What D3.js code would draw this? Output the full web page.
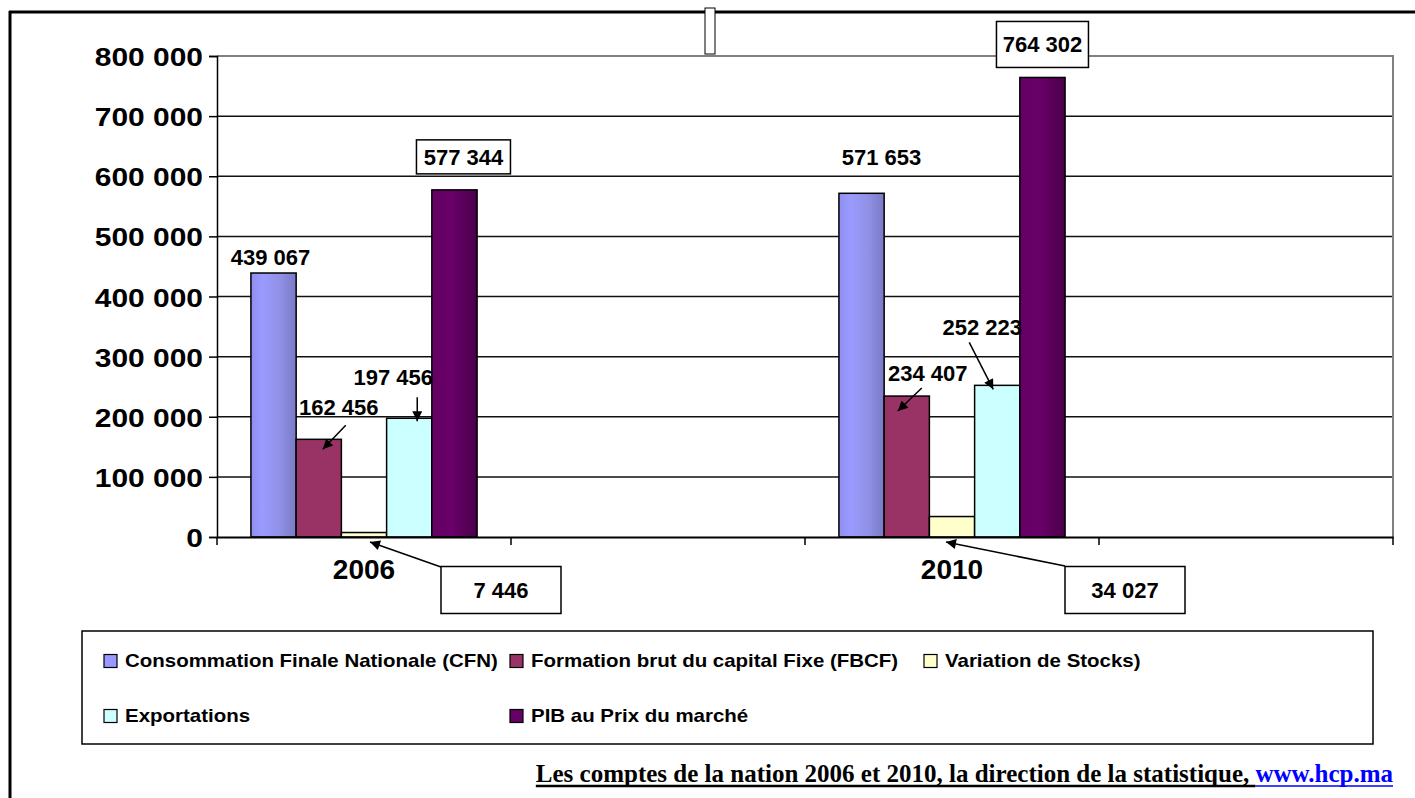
<!DOCTYPE html>
<html>
<head>
<meta charset="utf-8">
<script src="https://cdn.jsdelivr.net/npm/d3@7"></script>
<style>
  body { margin: 0; background: #fff; }
  text { font-family: "Liberation Sans", Arial, sans-serif; font-weight: bold; }
</style>
</head>
<body>
<div id="chart"></div>
<script>
// DATA
var categories = ["2006", "", "2010", ""];
var seriesNames = ["Consommation Finale Nationale (CFN)", "Formation brut du capital Fixe (FBCF)",
                   "Variation de Stocks)", "Exportations", "PIB au Prix du marché"];
var cfn = [439067, null, 571653, null];
var fbcf = [162456, null, 234407, null];
var stocks = [7446, null, 34027, null];
var exportations = [197456, null, 252223, null];
var pib = [577344, null, 764302, null];
var yTicks = [0, 100000, 200000, 300000, 400000, 500000, 600000, 700000, 800000];
var source = "Les comptes de la nation 2006 et 2010, la direction de la statistique, ";
var sourceLink = "www.hcp.ma";

var width = 1415, height = 798;
var seriesValues = [cfn, fbcf, stocks, exportations, pib];
var colors = ["#9999ff", "#993366", "#ffffcc", "#ccffff", "#660066"];
var fills = ["url(#gCfn)", "#993366", "#ffffcc", "#ccffff", "url(#gPib)"];

var fmt = function(v) { return d3.format(",")(v).replace(/,/g, " "); };

var svg = d3.select("#chart").append("svg")
    .attr("width", width).attr("height", height);

var defs = svg.append("defs");
var g1 = defs.append("linearGradient").attr("id", "gCfn");
g1.append("stop").attr("offset", "0%").attr("stop-color", "#8e8ef0");
g1.append("stop").attr("offset", "25%").attr("stop-color", "#9b9bff");
g1.append("stop").attr("offset", "65%").attr("stop-color", "#9090e6");
g1.append("stop").attr("offset", "100%").attr("stop-color", "#7a7ac6");
var g2 = defs.append("linearGradient").attr("id", "gPib");
g2.append("stop").attr("offset", "0%").attr("stop-color", "#640064");
g2.append("stop").attr("offset", "45%").attr("stop-color", "#680068");
g2.append("stop").attr("offset", "100%").attr("stop-color", "#4a004a");
defs.append("marker").attr("id", "arrow")
    .attr("viewBox", "0 0 10 10").attr("refX", 10).attr("refY", 5)
    .attr("markerWidth", 12).attr("markerHeight", 10).attr("markerUnits", "userSpaceOnUse")
    .attr("orient", "auto")
  .append("path").attr("d", "M0,0 L10,5 L0,10 z").attr("fill", "#000");

// page frame
svg.append("line").attr("x1", 9).attr("x2", width).attr("y1", 12).attr("y2", 12)
   .attr("stroke", "#000").attr("stroke-width", 3);
svg.append("line").attr("x1", 10).attr("x2", 10).attr("y1", 11).attr("y2", height)
   .attr("stroke", "#000").attr("stroke-width", 3);

// stray empty text box at top
svg.append("rect").attr("x", 705).attr("y", 8).attr("width", 10).attr("height", 46)
   .attr("fill", "#fff").attr("stroke", "#000").attr("stroke-width", 1);

// scales
var plotLeft = 217, plotRight = 1393, plotTop = 56, plotBottom = 537;
var xScale = d3.scaleBand().domain(d3.range(categories.length)).range([plotLeft, plotRight]);
var inner = d3.scaleBand().domain(d3.range(seriesNames.length))
    .range([0, xScale.bandwidth()]).paddingOuter(0.75);
var yScale = d3.scaleLinear().domain([0, 800000]).range([plotBottom, plotTop]);

// grid lines
svg.selectAll("line.grid").data(yTicks.slice(1, -1)).enter().append("line")
   .attr("class", "grid")
   .attr("x1", plotLeft).attr("x2", plotRight)
   .attr("y1", function(d) { return yScale(d); })
   .attr("y2", function(d) { return yScale(d); })
   .attr("stroke", "#111").attr("stroke-width", 1.5);
// plot border top / right (grey)
svg.append("path")
   .attr("d", "M" + plotLeft + "," + yScale(800000) + "H" + plotRight + "V" + plotBottom)
   .attr("fill", "none").attr("stroke", "#808080").attr("stroke-width", 2);

// bars
var bars = [];
seriesValues.forEach(function(vals, s) {
  vals.forEach(function(v, c) {
    if (v != null) bars.push({ s: s, c: c, v: v });
  });
});
svg.selectAll("rect.bar").data(bars).enter().append("rect")
   .attr("class", "bar")
   .attr("x", function(d) { return xScale(d.c) + inner(d.s); })
   .attr("y", function(d) { return yScale(d.v); })
   .attr("width", inner.bandwidth())
   .attr("height", function(d) { return yScale(0) - yScale(d.v); })
   .attr("fill", function(d) { return fills[d.s]; })
   .attr("stroke", "#000").attr("stroke-width", 1.5);

// axes
var yAxis = d3.axisLeft(yScale).tickValues(yTicks).tickSize(8).tickFormat(fmt);
var ya = svg.append("g").attr("transform", "translate(" + plotLeft + ",0)").call(yAxis);
ya.select(".domain").attr("stroke", "#000").attr("stroke-width", 1.5);
ya.selectAll(".tick line").attr("stroke", "#000").attr("stroke-width", 1.5);
ya.selectAll(".tick text")
  .attr("font-size", 26.5).attr("fill", "#000")
  .attr("x", -14 / 1.13).attr("dy", "0.36em")
  .attr("transform", "scale(1.13,1)");

var xAxis = d3.axisBottom(xScale).tickSize(0).tickFormat(function(i) { return categories[i]; });
var xa = svg.append("g").attr("transform", "translate(0," + plotBottom + ")").call(xAxis);
xa.select(".domain").attr("stroke", "#000").attr("stroke-width", 2);
xa.selectAll(".tick text").attr("font-size", 28).attr("fill", "#000").attr("dy", "1.4em");
svg.selectAll("line.xtick").data(d3.range(categories.length + 1)).enter().append("line")
   .attr("x1", function(i) { return plotLeft + i * xScale.step(); })
   .attr("x2", function(i) { return plotLeft + i * xScale.step(); })
   .attr("y1", plotBottom).attr("y2", plotBottom + 8)
   .attr("stroke", "#000").attr("stroke-width", 1.5);

// data labels
function barX(s, c) { return xScale(c) + inner(s) + inner.bandwidth() / 2; }
function barY(s, c) { return yScale(seriesValues[s][c]); }
function label(x, y, txt) {
  svg.append("text").attr("x", x).attr("y", y).attr("text-anchor", "middle")
     .attr("dy", "0.36em").attr("font-size", 22).attr("fill", "#000").text(txt);
}
function boxLabel(x, y, w, h, txt) {
  svg.append("rect").attr("x", x - w / 2).attr("y", y - h / 2).attr("width", w).attr("height", h)
     .attr("fill", "#fff").attr("stroke", "#000").attr("stroke-width", 1.5);
  label(x, y, txt);
}
function arrow(x1, y1, x2, y2) {
  svg.append("line").attr("x1", x1).attr("y1", y1).attr("x2", x2).attr("y2", y2)
     .attr("stroke", "#000").attr("stroke-width", 1.5).attr("marker-end", "url(#arrow)");
}

// 2006
label(barX(0, 0) - 3, barY(0, 0) - 16, fmt(cfn[0]));
label(barX(1, 0) + 20, barY(1, 0) - 32, fmt(fbcf[0]));
arrow(barX(1, 0) + 27, barY(1, 0) - 14, barX(1, 0) + 4, barY(1, 0) + 10);
label(barX(3, 0) - 16, barY(3, 0) - 41, fmt(exportations[0]));
arrow(barX(3, 0) + 8, barY(3, 0) - 21, barX(3, 0) + 8, barY(3, 0) + 3);
boxLabel(barX(4, 0) + 9, barY(4, 0) - 33, 94, 34, fmt(pib[0]));
boxLabel(501, 590, 120, 47, fmt(stocks[0]));
arrow(441, 567, barX(2, 0) + 6, plotBottom + 5);
// 2010
label(barX(0, 2) + 20, barY(0, 2) - 36, fmt(cfn[2]));
label(barX(1, 2) + 21, barY(1, 2) - 23, fmt(fbcf[2]));
arrow(barX(1, 2) + 15, barY(1, 2) - 8, barX(1, 2) - 9, barY(1, 2) + 15);
label(barX(3, 2) - 15, barY(3, 2) - 58, fmt(exportations[2]));
arrow(barX(3, 2) - 28, barY(3, 2) - 43, barX(3, 2) - 4, barY(3, 2) + 4);
boxLabel(barX(4, 2), barY(4, 2) - 33, 92, 46, fmt(pib[2]));
boxLabel(1125, 590, 120, 47, fmt(stocks[2]));
arrow(1065, 566, barX(2, 2) - 6, plotBottom + 5);

// legend
var lg = svg.append("g");
lg.append("rect").attr("x", 82).attr("y", 631).attr("width", 1291).attr("height", 113)
  .attr("fill", "#fff").attr("stroke", "#000").attr("stroke-width", 1.5);
var legendPos = [[104, 661], [510, 661], [924, 661], [104, 716], [510, 716]];
seriesNames.forEach(function(name, i) {
  var p = legendPos[i];
  lg.append("rect").attr("x", p[0]).attr("y", p[1] - 6.5).attr("width", 13).attr("height", 13)
    .attr("fill", colors[i]).attr("stroke", "#000").attr("stroke-width", 1.2);
  lg.append("text").attr("transform", "translate(" + (p[0] + 21) + "," + p[1] + ") scale(1.15,1)")
    .attr("dy", "0.36em").attr("font-size", 17.8).attr("fill", "#000").text(name);
});

// source
var src = svg.append("text").attr("x", 1393).attr("y", 782).attr("text-anchor", "end")
   .attr("font-size", 25).style("font-family", "'Liberation Serif', 'Times New Roman', serif");
src.append("tspan").attr("fill", "#000").text(source);
src.append("tspan").attr("fill", "#0000ff").text(sourceLink);
var bb = src.node().getBBox();
var linkW = src.selectAll("tspan").nodes()[1].getComputedTextLength();
svg.append("line").attr("x1", bb.x).attr("x2", 1393 - linkW).attr("y1", 786).attr("y2", 786)
   .attr("stroke", "#000").attr("stroke-width", 2.5);
svg.append("line").attr("x1", 1393 - linkW).attr("x2", 1393).attr("y1", 786).attr("y2", 786)
   .attr("stroke", "#0000ff").attr("stroke-width", 1.5);
</script>
</body>
</html>
